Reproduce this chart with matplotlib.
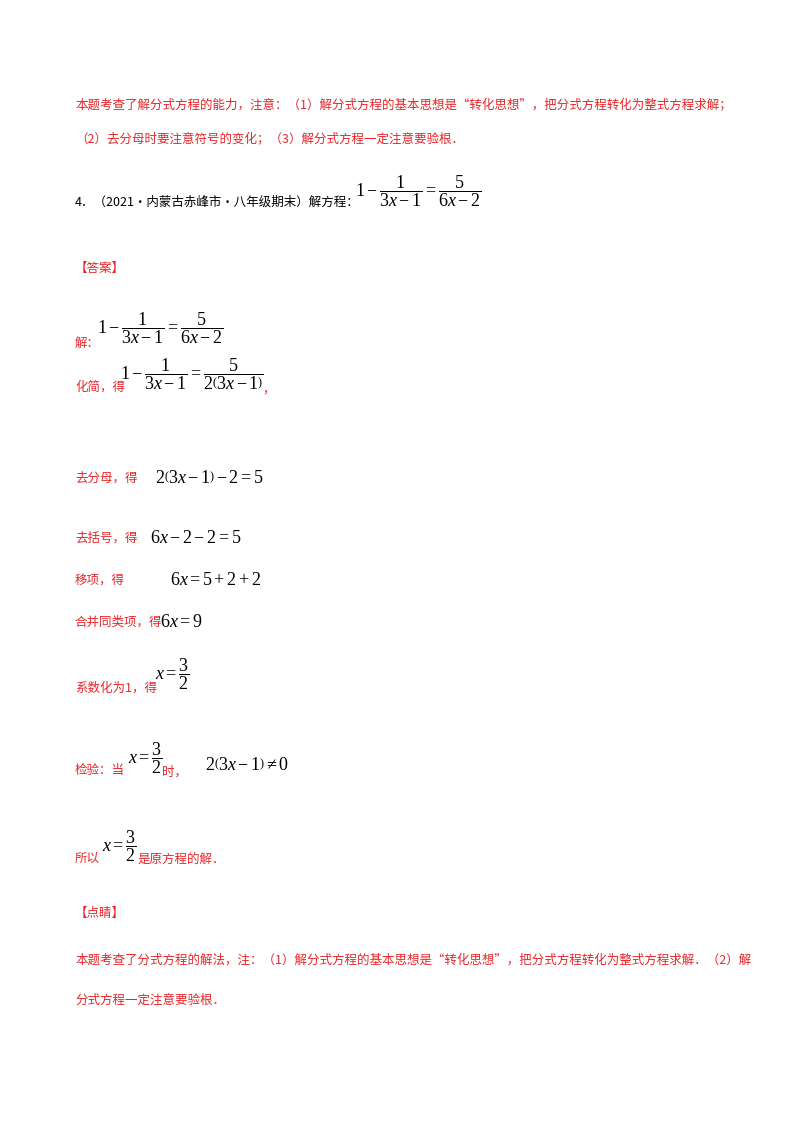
import matplotlib
matplotlib.use("Agg")
import matplotlib.pyplot as plt

plt.rcParams["font.family"] = ["Noto Sans CJK SC", "DejaVu Sans"]
plt.rcParams["mathtext.fontset"] = "custom"
plt.rcParams["mathtext.rm"] = "Liberation Serif"
plt.rcParams["mathtext.it"] = "Liberation Serif:italic"

W, H = 800, 1132
RED = "#e8262a"
TXT = 9
EQ = 13

# ---- content ----
intro_lines = [
    "本题考查了解分式方程的能力，注意：（1）解分式方程的基本思想是“转化思想”，把分式方程转化为整式方程求解；",
    "（2）去分母时要注意符号的变化；（3）解分式方程一定注意要验根．",
]
question = "4．（2021·内蒙古赤峰市·八年级期末）解方程："
question_eq = r"$1-\dfrac{1}{3x-1}=\dfrac{5}{6x-2}$"
answer_head = "【答案】"
steps = [
    ("解：", r"$1-\dfrac{1}{3x-1}=\dfrac{5}{6x-2}$"),
    ("化简，得", r"$1-\dfrac{1}{3x-1}=\dfrac{5}{2\left(3x-1\right)}$"),
    ("去分母，得", r"$2\left(3x-1\right)-2=5$"),
    ("去括号，得", r"$6x-2-2=5$"),
    ("移项，得", r"$6x=5+2+2$"),
    ("合并同类项，得", r"$6x=9$"),
    ("系数化为1，得", r"$x=\dfrac{3}{2}$"),
]
check = ["检验：当", r"$x=\dfrac{3}{2}$", "时，", r"$2\left(3x-1\right)\neq0$"]
concl = ["所以", r"$x=\dfrac{3}{2}$", "是原方程的解．"]
comment_head = "【点睛】"
comment_lines = [
    "本题考查了分式方程的解法，注：（1）解分式方程的基本思想是“转化思想”，把分式方程转化为整式方程求解．（2）解",
    "分式方程一定注意要验根．",
]

# ---- layout (pixels from top-left) ----
step_rows = [(343, 97, 328), (387, 120, 374), (478, 155, 478), (538, 150, 538),
             (580, 170, 580), (622, 160, 622), (688, 155, 674)]

fig = plt.figure(figsize=(W / 100, H / 100), dpi=100)


def put(x, y, s, color="black", size=TXT, va="center"):
    fig.text(x / W, 1 - y / H, s, color=color, fontsize=size, va=va, ha="left")


for y, line in zip([105, 139], intro_lines):
    put(75, y, line, RED)
put(75, 202, question)
put(355, 191, question_eq, size=EQ)
put(75, 268, answer_head, RED)

for (label, eq), (y, x_eq, y_eq) in zip(steps, step_rows):
    put(75, y, label, RED)
    put(x_eq, y_eq, eq, size=EQ)
put(262, 389, "，", RED)

put(75, 770, check[0], RED)
put(128, 758, check[1], size=EQ)
put(162, 772, check[2], RED)
put(205, 765, check[3], size=EQ)

put(75, 858, concl[0], RED)
put(102, 846, concl[1], size=EQ)
put(138, 860, concl[2], RED)

put(75, 913, comment_head, RED)
for y, line in zip([960, 1000], comment_lines):
    put(75, y, line, RED)

fig.savefig("out.png", dpi=100, facecolor="white")
